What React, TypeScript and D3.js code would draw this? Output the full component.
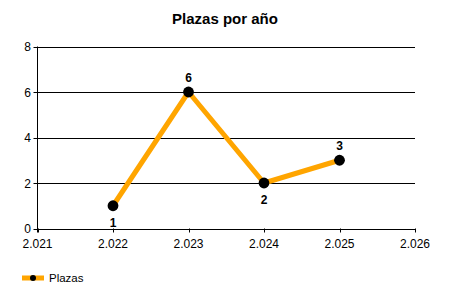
import React from "react";
import * as d3 from "d3";

const years = [2022, 2023, 2024, 2025];
const plazas = [1, 6, 2, 3];
const labelPos = ["below", "above", "below", "above"];
const xTicks = [2021, 2022, 2023, 2024, 2025, 2026];
const xTickLabels = ["2.021", "2.022", "2.023", "2.024", "2.025", "2.026"];
const yTicks = [0, 2, 4, 6, 8];
const title = "Plazas por año";
const seriesName = "Plazas";

export default function App() {
  const W = 450, H = 300;
  const left = 37.5, right = 415, top = 46.5, bottom = 228.5;
  const x = d3.scaleLinear().domain([2021, 2026]).range([left, right]);
  const y = d3.scaleLinear().domain([0, 8]).range([bottom, top]);
  const line = d3.line<number>().x((_, i) => x(years[i])).y((d) => y(d));
  const font = "'Liberation Sans', Arial, sans-serif";
  return (
    <svg width={W} height={H} style={{ position: "absolute", left: 0, top: 0, background: "#fff" }} fontFamily={font}>
      <rect width={W} height={H} fill="#fff" />
      <text x={225} y={24} textAnchor="middle" fontSize={15} fontWeight="bold" fill="#000">{title}</text>
      {yTicks.map((t) => (
        <g key={t}>
          <line x1={left - 4} x2={right} y1={Math.round(y(t)) + 0.5} y2={Math.round(y(t)) + 0.5} stroke="#000" strokeWidth={1} />
          <text x={31} y={y(t) + 4.5} textAnchor="end" fontSize={12} fill="#000">{t}</text>
        </g>
      ))}
      <line x1={left} x2={left} y1={top} y2={bottom + 4} stroke="#000" />
      {xTicks.map((t, i) => (
        <g key={t}>
          <line x1={Math.round(x(t)) + 0.5} x2={Math.round(x(t)) + 0.5} y1={bottom} y2={bottom + 4} stroke="#000" />
          <text x={x(t)} y={247.5} textAnchor="middle" fontSize={12} fill="#000">{xTickLabels[i]}</text>
        </g>
      ))}
      <path d={line(plazas) ?? ""} fill="none" stroke="#FFA500" strokeWidth={5} strokeLinejoin="round" />
      {plazas.map((v, i) => (
        <g key={i}>
          <circle cx={x(years[i])} cy={y(v)} r={5.4} fill="#000" />
          <text x={x(years[i])} y={labelPos[i] === "above" ? y(v) - 10.5 : y(v) + 21} textAnchor="middle" fontSize={12} fontWeight="bold" fill="#000">{v}</text>
        </g>
      ))}
      <line x1={22} x2={44} y1={278} y2={278} stroke="#FFA500" strokeWidth={5} />
      <circle cx={33} cy={278} r={3} fill="#000" />
      <text x={49} y={282} fontSize={11.5} fill="#000">{seriesName}</text>
    </svg>
  );
}
